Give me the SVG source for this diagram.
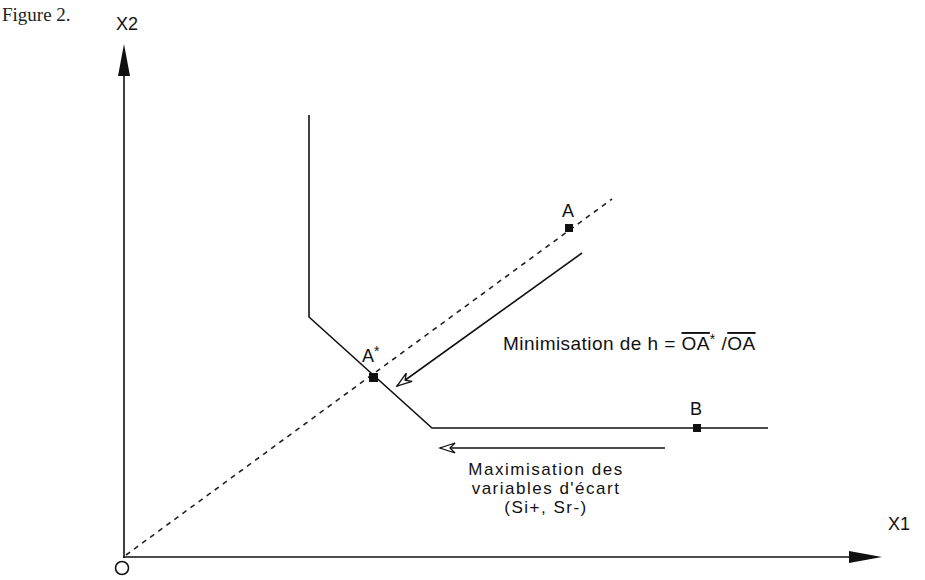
<svg xmlns="http://www.w3.org/2000/svg" width="925" height="580" viewBox="0 0 925 580">
<defs>
<style>
.ln{stroke:#111;stroke-width:1.6;fill:none}
.dash{stroke:#222;stroke-width:1.6;stroke-dasharray:5,5;fill:none}
.t{font-family:"Liberation Sans","DejaVu Sans",sans-serif;fill:#111}
.lbl{font-size:18px}
.big{font-size:19px}
.mid{font-size:17px}
.pt{fill:#111}
</style>
<marker id="open" markerWidth="18" markerHeight="12" refX="16" refY="6" orient="auto" markerUnits="userSpaceOnUse">
<path d="M1,1 L16,6 L1,11 L6,6 Z" fill="#fff" stroke="#111" stroke-width="1.3"/>
</marker>
</defs>
<rect width="925" height="580" fill="#fff"/>
<text x="2" y="21" font-family="Liberation Serif, serif" font-size="19" fill="#222">Figure 2.</text>
<g id="axes">
<line class="ln" x1="124" y1="70" x2="124" y2="558"/>
<line class="ln" x1="123" y1="557" x2="855" y2="557"/>
<polygon class="pt" points="124,44 118,76 130,76"/>
<polygon class="pt" points="882,557 849,551 849,563"/>
<text class="t" x="116" y="30" font-size="18">X2</text>
<text class="t" x="888" y="530" font-size="18">X1</text>
<circle cx="122" cy="568" r="6.5" fill="none" stroke="#111" stroke-width="1.6"/>
</g>
<g id="ray">
<line class="dash" x1="126" y1="555" x2="612" y2="199"/>
</g>
<g id="isoquant">
<polyline class="ln" points="309,115 309,317 432,428 768,428"/>
</g>
<g id="A">
<rect class="pt" x="565" y="224" width="8" height="8"/>
<text class="t lbl" x="562" y="217">A</text>
</g>
<g id="Astar">
<rect class="pt" x="369" y="373" width="9" height="9"/>
<text class="t lbl" x="362" y="362">A<tspan font-size="14" dy="-6">*</tspan></text>
</g>
<g id="B">
<rect class="pt" x="693" y="424" width="8" height="8"/>
<text class="t lbl" x="690" y="415">B</text>
</g>
<g id="connectors">
<line class="ln" x1="582" y1="253" x2="397" y2="386" marker-end="url(#open)"/>
<line class="ln" x1="665" y1="448" x2="440" y2="448" marker-end="url(#open)"/>
</g>
<g id="label-min">
<text class="t big" x="503" y="350" letter-spacing="0.45">Minimisation de h = <tspan text-decoration="overline">OA</tspan><tspan font-size="14" dy="-6">*</tspan><tspan dy="6"> /</tspan><tspan text-decoration="overline">OA</tspan></text>
</g>
<g id="label-max" class="t mid" text-anchor="middle" letter-spacing="1.5">
<text x="546" y="475">Maximisation des</text>
<text x="546" y="494">variables d'écart</text>
<text x="546" y="513">(Si+, Sr-)</text>
</g>
</svg>
